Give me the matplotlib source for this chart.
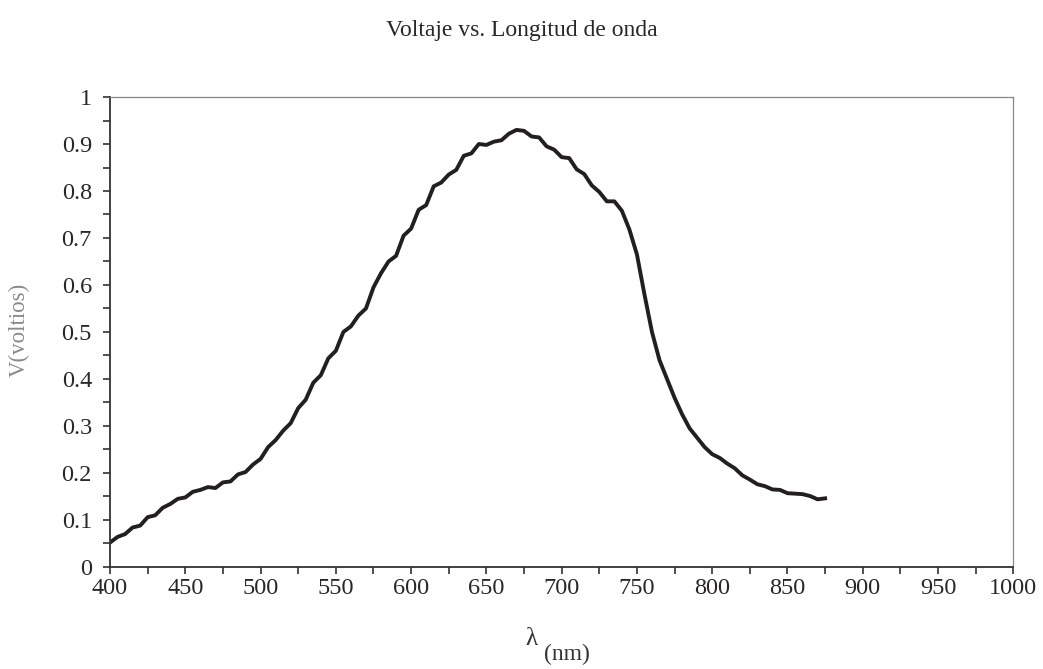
import numpy as np
import matplotlib.pyplot as plt
from matplotlib.ticker import MultipleLocator, FuncFormatter

# espectro medido: longitud de onda (nm) y voltaje (V)
wavelength = [400, 405, 410, 415, 420, 425, 430, 435, 440, 445, 450, 455, 460, 465,
              470, 475, 480, 485, 490, 495, 500, 505, 510, 515, 520, 525, 530, 535,
              540, 545, 550, 555, 560, 565, 570, 575, 580, 585, 590, 595, 600, 605,
              610, 615, 620, 625, 630, 635, 640, 645, 650, 655, 660, 665, 670, 675,
              680, 685, 690, 695, 700, 705, 710, 715, 720, 725, 730, 735, 740, 745,
              750, 755, 760, 765, 770, 775, 780, 785, 790, 795, 800, 805, 810, 815,
              820, 825, 830, 835, 840, 845, 850, 855, 860, 865, 870, 875]
voltage = [0.052, 0.064, 0.070, 0.084, 0.088, 0.106, 0.110, 0.126, 0.134, 0.145, 0.148, 0.160, 0.164, 0.170,
           0.168, 0.180, 0.182, 0.197, 0.202, 0.218, 0.230, 0.255, 0.270, 0.290, 0.306, 0.338, 0.356, 0.392,
           0.408, 0.444, 0.460, 0.500, 0.512, 0.535, 0.550, 0.595, 0.625, 0.650, 0.662, 0.705, 0.720, 0.760,
           0.770, 0.810, 0.818, 0.835, 0.845, 0.875, 0.880, 0.900, 0.898, 0.905, 0.908, 0.922, 0.930, 0.928,
           0.916, 0.914, 0.895, 0.888, 0.872, 0.870, 0.846, 0.836, 0.812, 0.798, 0.778, 0.778, 0.758, 0.718,
           0.665, 0.580, 0.500, 0.440, 0.400, 0.360, 0.325, 0.295, 0.275, 0.255, 0.240, 0.232, 0.220, 0.210,
           0.195, 0.186, 0.176, 0.172, 0.165, 0.164, 0.157, 0.156, 0.155, 0.151, 0.144, 0.146]

plt.rcParams['font.family'] = ['Liberation Serif', 'DejaVu Serif']

fig = plt.figure(figsize=(10.43, 6.69), dpi=100)
ax = fig.add_axes([0.1055, 0.1525, 0.866, 0.7025])

ax.plot(wavelength, voltage, color='#231f20', linewidth=2.8, solid_joinstyle='round')

ax.set_xlim(400, 1000)
ax.set_ylim(0, 1)
ax.xaxis.set_major_locator(MultipleLocator(50))
ax.xaxis.set_minor_locator(MultipleLocator(25))
ax.yaxis.set_major_locator(MultipleLocator(0.1))
ax.yaxis.set_minor_locator(MultipleLocator(0.05))
ax.yaxis.set_major_formatter(FuncFormatter(lambda v, p: '%g' % round(v, 1)))

ax.tick_params(which='both', direction='out', length=5, width=1.2, color='#333333',
               labelsize=17.5, labelcolor='#2a2628')
ax.tick_params(axis='x', pad=3)
ax.tick_params(axis='y', pad=8)

ax.spines['left'].set_color('#333333')
ax.spines['bottom'].set_color('#333333')
ax.spines['left'].set_linewidth(1.3)
ax.spines['bottom'].set_linewidth(1.3)
ax.spines['top'].set_color('#888888')
ax.spines['right'].set_color('#888888')
ax.spines['top'].set_linewidth(0.9)
ax.spines['right'].set_linewidth(0.9)

fig.text(0.5, 0.955, 'Voltaje vs. Longitud de onda', ha='center', va='center',
         fontsize=17, color='#2a2628')
fig.text(0.515, 0.045, '\u03bb', ha='right', va='center', fontsize=18, color='#333333')
fig.text(0.522, 0.021, '(nm)', ha='left', va='center', fontsize=17, color='#333333')
fig.text(0.018, 0.507, 'V(voltios)', ha='center', va='center', rotation=90,
         fontsize=16.5, color='#8a8a8a')

fig.savefig('out.png', dpi=100)
